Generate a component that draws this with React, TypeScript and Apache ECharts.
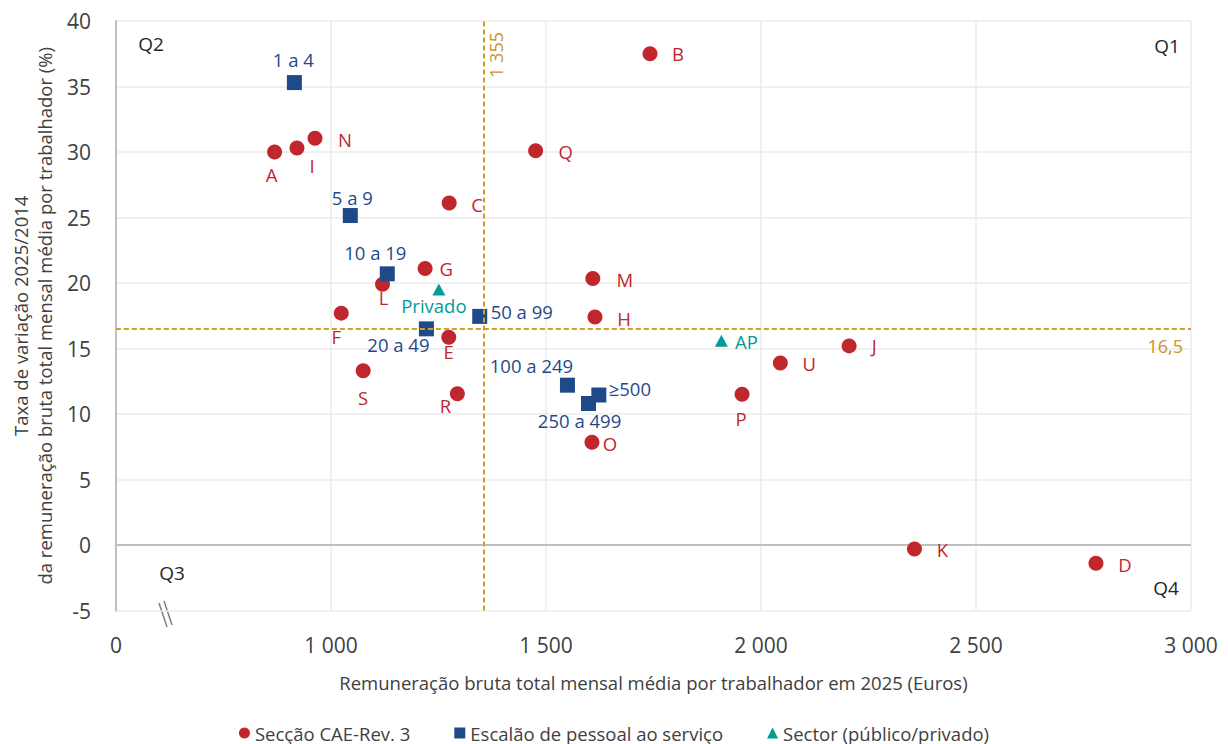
import React, { useEffect, useRef } from 'react';
import * as echarts from 'echarts';

// ---- Data ----
const sectionNames = ['A', 'B', 'C', 'D', 'E', 'F', 'G', 'H', 'I', 'J', 'K', 'L', 'M', 'N', 'O', 'P', 'Q', 'R', 'S', 'U'];
const sectionPay = [869, 1742, 1275, 2779, 1274, 1024, 1219, 1614, 921, 2205, 2357, 1120, 1609, 963, 1607, 1956, 1476, 1294, 1075, 2045];
const sectionGrowth = [30.0, 37.5, 26.1, -1.4, 15.85, 17.7, 21.1, 17.4, 30.3, 15.2, -0.3, 19.9, 20.35, 31.05, 7.85, 11.5, 30.1, 11.55, 13.3, 13.9];

const sizeNames = ['1 a 4', '5 a 9', '10 a 19', '20 a 49', '50 a 99', '100 a 249', '250 a 499', '≥500'];
const sizePay = [915, 1045, 1131, 1222, 1346, 1550, 1599, 1623];
const sizeGrowth = [35.3, 25.15, 20.7, 16.5, 17.45, 12.2, 10.8, 11.45];

const sectorNames = ['Privado', 'AP'];
const sectorPay = [1251, 1908];
const sectorGrowth = [19.5, 15.6];

const refPay = 1355;
const refGrowth = 16.5;

const seriesNames = ['Secção CAE-Rev. 3', 'Escalão de pessoal ao serviço', 'Sector (público/privado)'];
const quadrantLabels = ['Q1', 'Q2', 'Q3', 'Q4'];

const xAxisTitle = 'Remuneração bruta total mensal média por trabalhador em 2025 (Euros)';
const yAxisTitle = 'Taxa de variação 2025/2014\nda remuneração bruta total mensal média por trabalhador (%)';

// ---- Styles ----
const RED = '#C0272D';
const BLUE = '#1F4A8A';
const TEAL = '#009C96';
const GOLD = '#D49E2C';
const GOLD_TEXT = '#C9952A';
const FONT = '"Open Sans", "Noto Sans", sans-serif';

const labelOffsets: Record<string, [number, number]> = {
  A: [-3, 22], B: [28, 0], C: [28, 1], D: [29, 1], E: [0, 14], F: [-5, 23], G: [21, 0], H: [29, 1],
  I: [15, 17], J: [25, 0], K: [28, 1], L: [1, 13], M: [32, 1], N: [30, 1], O: [18, 1], P: [-1, 24],
  Q: [30, 1], R: [-12, 12], S: [0, 27], U: [29, 1],
  '1 a 4': [-1, -23], '5 a 9': [2, -18], '10 a 19': [-12, -21], '20 a 49': [-28, 16],
  '50 a 99': [42, -5], '100 a 249': [-36, -20], '250 a 499': [-9, 17], '≥500': [31, -7],
  Privado: [-5, 16], AP: [25, 1],
};

const fmtThousands = (v: number) => String(v).replace(/\B(?=(\d{3})+(?!\d))/g, ' ');

function buildPoints(names: string[], xs: number[], ys: number[], color: string) {
  return names.map((n, i) => ({
    name: n,
    value: [xs[i], ys[i]],
    label: {
      show: true,
      position: 'inside',
      offset: labelOffsets[n] || [0, 0],
      formatter: n,
      color,
      fontSize: 18.5,
      fontFamily: FONT,
    },
  }));
}

export default function App() {
  const ref = useRef<HTMLDivElement>(null);

  useEffect(() => {
    if (!ref.current) return;
    const chart = echarts.init(ref.current, undefined, { renderer: 'svg' });

    const option: any = {
      animation: false,
      backgroundColor: '#ffffff',
      textStyle: { fontFamily: FONT },
      grid: { left: 113, right: 37, top: 21, bottom: 133.5, containLabel: false },
      legend: {
        top: 723,
        left: 'center',
        itemWidth: 11,
        itemHeight: 11,
        itemGap: 44,
        padding: 0,
        textStyle: { fontSize: 18.5, lineHeight: 20, color: '#404040', fontFamily: FONT },
        data: [
          { name: seriesNames[0], icon: 'circle' },
          { name: seriesNames[1], icon: 'rect' },
          { name: seriesNames[2], icon: 'triangle' },
        ],
      },
      xAxis: {
        type: 'value',
        min: 500,
        max: 3000,
        interval: 500,
        axisLine: { show: false },
        axisTick: { show: false },
        splitLine: { show: true, lineStyle: { color: '#EBEBEB', width: 1.5 } },
        axisLabel: {
          margin: 24,
          fontSize: 21,
          color: '#404040',
          fontFamily: FONT,
          formatter: (v: number) => (v === 500 ? '0' : fmtThousands(v)),
        },
        name: xAxisTitle,
        nameLocation: 'middle',
        nameGap: 62,
        nameTextStyle: { fontSize: 18.5, color: '#404040', fontFamily: FONT },
      },
      yAxis: {
        type: 'value',
        min: -5,
        max: 40,
        interval: 5,
        axisLine: { show: true, lineStyle: { color: '#BFBFBF', width: 2 } },
        axisTick: { show: false },
        splitLine: { show: true, lineStyle: { color: '#EBEBEB', width: 1.5 } },
        axisLabel: { margin: 25, fontSize: 21, color: '#404040', fontFamily: FONT },
        name: yAxisTitle,
        nameLocation: 'middle',
        nameRotate: 90,
        nameGap: 58,
        nameTextStyle: { fontSize: 18.5, color: '#404040', fontFamily: FONT, lineHeight: 24, align: 'center' },
      },
      series: [
        {
          name: seriesNames[0],
          type: 'scatter',
          symbol: 'circle',
          symbolSize: 15,
          itemStyle: { color: RED, opacity: 1 },
          z: 3,
          data: buildPoints(sectionNames, sectionPay, sectionGrowth, RED),
          markLine: {
            silent: true,
            symbol: 'none',
            animation: false,
            lineStyle: { color: GOLD, type: [5, 3], width: 2 },
            data: [
              {
                xAxis: refPay,
                label: {
                  show: true,
                  formatter: fmtThousands(refPay),
                  position: 'insideEndBottom',
                  color: GOLD_TEXT,
                  fontSize: 18,
                  fontFamily: FONT,
                  distance: 3,
                  padding: [0, 8, 0, 0],
                },
              },
              {
                yAxis: refGrowth,
                label: {
                  show: true,
                  formatter: String(refGrowth).replace('.', ','),
                  position: 'insideEndBottom',
                  color: GOLD_TEXT,
                  fontSize: 18,
                  fontFamily: FONT,
                  distance: 8,
                },
              },
            ],
          },
        },
        {
          name: seriesNames[1],
          type: 'scatter',
          symbol: 'rect',
          symbolSize: 15,
          itemStyle: { color: BLUE, opacity: 1 },
          z: 3,
          data: buildPoints(sizeNames, sizePay, sizeGrowth, BLUE),
          markLine: {
            silent: true,
            symbol: 'none',
            animation: false,
            z: 1,
            lineStyle: { color: '#BFBFBF', type: 'solid', width: 2 },
            label: { show: false },
            data: [{ yAxis: 0 }],
          },
        },
        {
          name: seriesNames[2],
          type: 'scatter',
          symbol: 'triangle',
          symbolSize: [13, 12],
          itemStyle: { color: TEAL, opacity: 1 },
          z: 3,
          data: buildPoints(sectorNames, sectorPay, sectorGrowth, TEAL),
        },
      ],
      graphic: [
        { type: 'text', x: 1167, y: 46, style: { text: quadrantLabels[0], fontSize: 19, fill: '#262626', fontFamily: FONT, align: 'center', verticalAlign: 'middle' } },
        { type: 'text', x: 151, y: 44, style: { text: quadrantLabels[1], fontSize: 19, fill: '#262626', fontFamily: FONT, align: 'center', verticalAlign: 'middle' } },
        { type: 'text', x: 172, y: 573, style: { text: quadrantLabels[2], fontSize: 19, fill: '#262626', fontFamily: FONT, align: 'center', verticalAlign: 'middle' } },
        { type: 'text', x: 1166, y: 588, style: { text: quadrantLabels[3], fontSize: 19, fill: '#262626', fontFamily: FONT, align: 'center', verticalAlign: 'middle' } },
        { type: 'line', shape: { x1: 159, y1: 603, x2: 167, y2: 627 }, style: { stroke: '#7F7F7F', lineWidth: 1.5 } },
        { type: 'line', shape: { x1: 164, y1: 601, x2: 172, y2: 625 }, style: { stroke: '#7F7F7F', lineWidth: 1.5 } },
      ],
    };

    chart.setOption(option);
    return () => chart.dispose();
  }, []);

  return (
    <div
      ref={ref}
      style={{ position: 'fixed', left: 0, top: 0, width: 1228, height: 744, background: '#fff' }}
    />
  );
}
